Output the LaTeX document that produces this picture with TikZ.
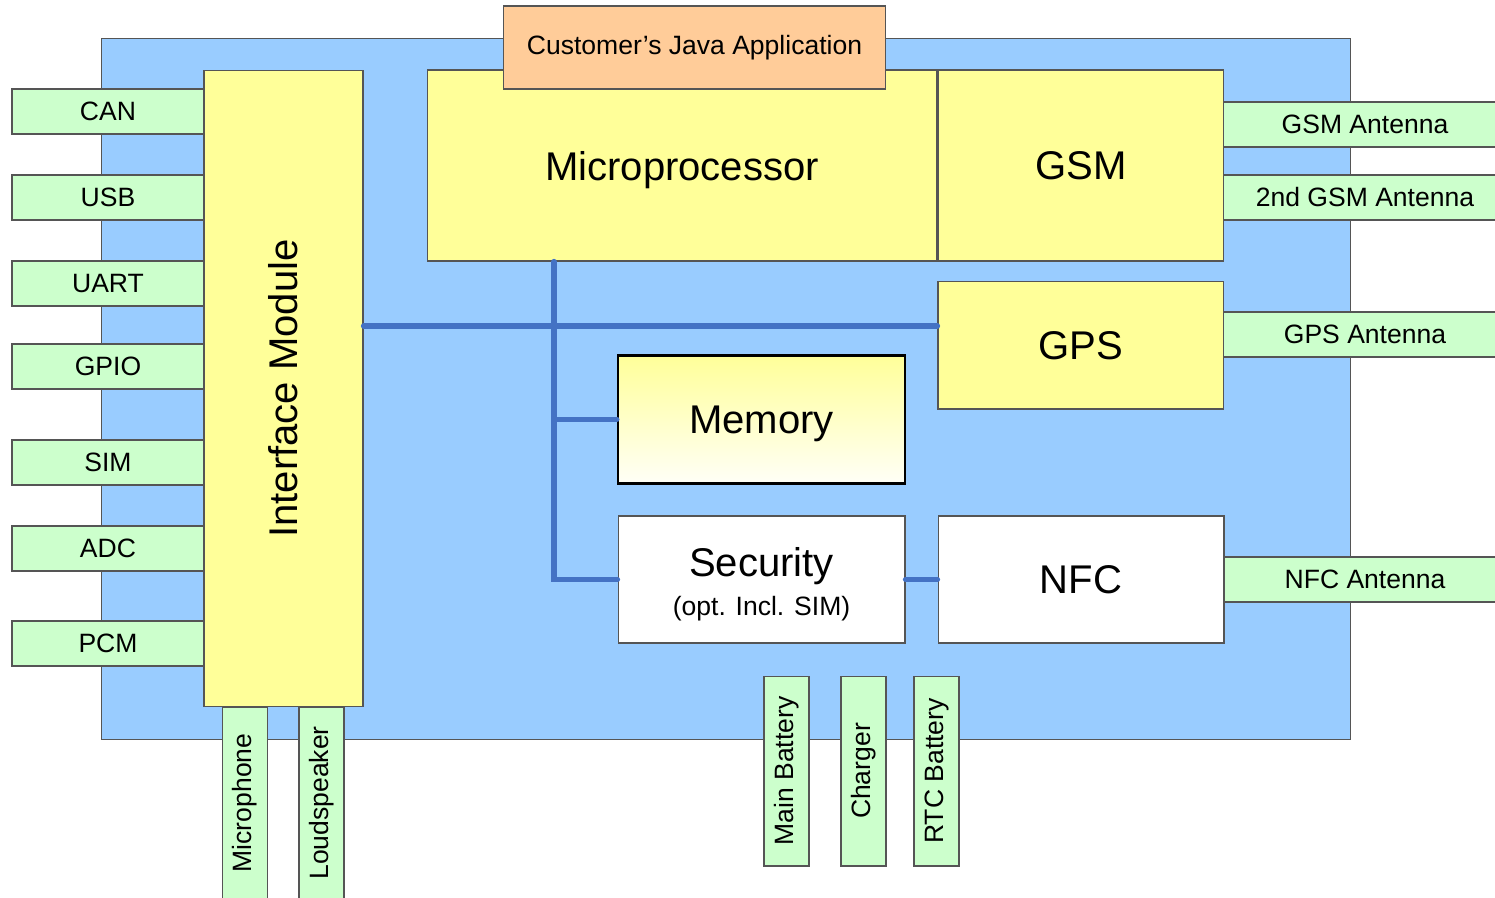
\documentclass[tikz,border=0pt]{standalone}
\usepackage{fontspec}
\setmainfont{Liberation Sans}
\usetikzlibrary{positioning}
\definecolor{boardblue}{HTML}{99CCFF}
\definecolor{chipyellow}{HTML}{FFFF99}
\definecolor{portgreen}{HTML}{CCFFCC}
\definecolor{apporange}{HTML}{FFCC99}
\definecolor{busblue}{HTML}{4472C4}
\definecolor{edgegray}{HTML}{555555}
\newcommand{\blkfont}{\fontsize{22.8pt}{27pt}\selectfont}
\newcommand{\lblfont}{\fontsize{15.1pt}{18pt}\selectfont}

\begin{document}
\begin{tikzpicture}[
    x=0.02cm, y=-0.02cm,
    box/.style={rectangle, draw=edgegray, line width=0.6pt, inner sep=0pt},
    chip/.style={box, fill=chipyellow, font=\blkfont, text depth=0pt},
    plain/.style={box, fill=white, font=\blkfont},
    port/.style={box, fill=portgreen, font=\lblfont, minimum height=0.9cm},
    lport/.style={port, minimum width=3.84cm},
    rport/.style={port, minimum width=5.68cm},
    vport/.style={port, rotate=90},
    bus/.style={draw=busblue, line width=3pt, line cap=round},
]
\useasboundingbox (0,0) rectangle (1495,897);
\clip (0,0) rectangle (1495,897);

% Board
\node[box, fill=boardblue, minimum width=25cm, minimum height=14.04cm] (board) at (726,389) {};

% Left ports
\node[lport] (can)  at (108,111.5) {CAN};
\node[lport] (usb)  at (108,197.5) {USB};
\node[lport] (uart) at (108,283.5) {UART};
\node[lport] (gpio) at (108,366.5) {GPIO};
\node[lport] (sim)  at (108,462.5) {SIM};
\node[lport] (adc)  at (108,548.5) {ADC};
\node[lport] (pcm)  at (108,643.5) {PCM};

% Right ports (antennas)
\node[rport] (gsmant)  at (1365,124.5) {GSM Antenna};
\node[rport] (gsmant2) at (1365,197.5) {2nd GSM Antenna};
\node[rport] (gpsant)  at (1365,334.5) {GPS Antenna};
\node[rport] (nfcant)  at (1365,579.5) {NFC Antenna};

% Bottom ports
\node[vport, minimum width=3.84cm] (mic)  at (245,803)   {Microphone};
\node[vport, minimum width=3.84cm] (spk)  at (321.5,803) {Loudspeaker};
\node[vport, minimum width=3.8cm]  (batt) at (786.5,771) {Main Battery};
\node[vport, minimum width=3.8cm]  (chg)  at (863.5,771) {Charger};
\node[vport, minimum width=3.8cm]  (rtc)  at (936.5,771) {RTC Battery};

% Blocks
\node[chip, minimum width=3.18cm, minimum height=12.74cm] (iface) at (283.5,388.5) {\rotatebox{90}{Interface Module}};
\node[chip, minimum width=10.2cm, minimum height=3.82cm] (micro) at (682,165.5) {Microprocessor};
\node[chip, right=0pt of micro, minimum width=5.72cm, minimum height=3.82cm] (gsm) {GSM};
\node[chip, below=0.38cm of gsm, minimum width=5.72cm, minimum height=2.56cm] (gps) {GPS};
\node[plain, minimum width=5.74cm, minimum height=2.54cm, align=center] (sec) at (761.5,579.5)
    {\rule{0pt}{22pt}Security\\[-5pt]{\lblfont (opt. Incl. SIM)}};
\node[plain, right=0.64cm of sec, minimum width=5.72cm, minimum height=2.54cm] (nfc) {NFC};
\node[box, draw=black, line width=1.3pt, above=0.62cm of sec, minimum width=5.74cm, minimum height=2.56cm,
    top color=chipyellow, bottom color=white!92!chipyellow, font=\blkfont, text depth=0pt] (mem) {Memory};

% Java application on top
\node[box, fill=apporange, minimum width=7.66cm, minimum height=1.66cm, font=\lblfont] (java) at (694.5,47.5) {Customer's Java Application};

% Bus
\coordinate (gpsin) at ([yshift=0.38cm]gps.west);
\coordinate (tap) at ([xshift=-2.56cm]micro.south);
\draw[bus] (iface.east |- gpsin) -- (gpsin);
\draw[bus] (tap) -- (tap |- sec.west) -- (sec.west);
\draw[bus] (tap |- mem.west) -- (mem.west);
\draw[bus] (sec) -- (nfc);

\end{tikzpicture}
\end{document}
